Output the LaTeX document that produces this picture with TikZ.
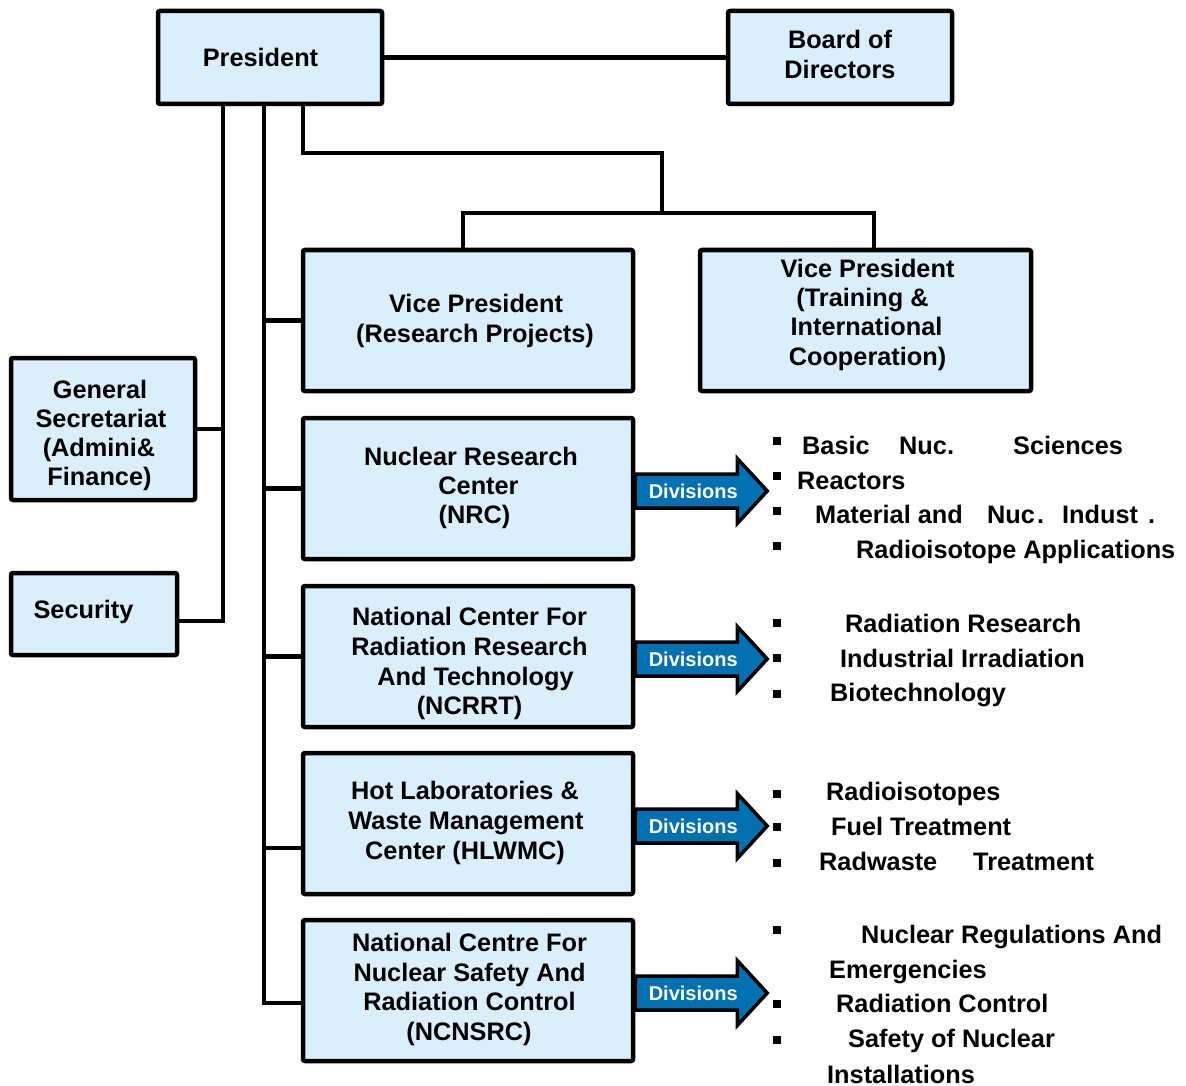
\documentclass[tikz,border=0pt]{standalone}
\usepackage{fontspec}
\setmainfont{Liberation Sans}
\definecolor{boxfill}{RGB}{218,238,252}
\definecolor{divblue}{RGB}{0,112,176}
\begin{document}
\begin{tikzpicture}[x=1pt,y=-1pt,
  orgbox/.style={draw, line width=4.5pt, fill=boxfill, rounded corners=2pt, inner sep=0pt, rectangle},
  boxtxt/.style={anchor=base, inner sep=0pt, font=\fontsize{25.3}{30}\selectfont\bfseries},
  wire/.style={line width=4.5pt, line join=miter},
  divarrow/.style={draw, line width=3.5pt, fill=divblue, line join=miter},
  divtxt/.style={text=white, inner sep=0pt, font=\fontsize{20}{24}\selectfont\bfseries},
  lst/.style={anchor=base west, inner sep=0pt, font=\fontsize{25.3}{30}\selectfont\bfseries},
  bul/.style={fill=black, minimum size=8pt, inner sep=0pt, rectangle}
]
\useasboundingbox (0,0) rectangle (1186,1086);

% ---------- boxes ----------
\node[orgbox, minimum width=224pt, minimum height=93pt]  (pres)   at (270,57.5)   {};
\node[orgbox, minimum width=224pt, minimum height=93pt]  (board)  at (840,57.5)   {};
\node[orgbox, minimum width=330pt, minimum height=141pt] (vpr)    at (468,320.5)  {};
\node[orgbox, minimum width=331pt, minimum height=141pt] (vpt)    at (865.5,320.5){};
\node[orgbox, minimum width=184pt, minimum height=142pt] (gsec)   at (103,429)    {};
\node[orgbox, minimum width=166pt, minimum height=82pt]  (sec)    at (94,614)     {};
\node[orgbox, minimum width=330pt, minimum height=141pt] (nrc)    at (468,488.5)  {};
\node[orgbox, minimum width=330pt, minimum height=141pt] (ncrrt)  at (468,656.5)  {};
\node[orgbox, minimum width=330pt, minimum height=141pt] (hlwmc)  at (468,823.5)  {};
\node[orgbox, minimum width=330pt, minimum height=141pt] (ncnsrc) at (468,990.5)  {};

% ---------- box texts ----------
\node[boxtxt] (pres-t)   at (260.5,67) {President};
\node[boxtxt] (board-t1) at (840,49) {Board of};
\node[boxtxt] (board-t2) at (840,79) {Directors};
\node[boxtxt] (vpr-t1)   at (476,312) {Vice President};
\node[boxtxt] (vpr-t2)   at (475,342) {(Research Projects)};
\node[boxtxt] (vpt-t1)   at (867.5,277) {Vice President};
\node[boxtxt] (vpt-t2)   at (862.5,306) {(Training \&};
\node[boxtxt] (vpt-t3)   at (866.5,335) {International};
\node[boxtxt] (vpt-t4)   at (867.5,365) {Cooperation)};
\node[boxtxt] (gsec-t1)  at (100,398) {General};
\node[boxtxt] (gsec-t2)  at (101,427) {Secretariat};
\node[boxtxt] (gsec-t3)  at (99,456) {(Admini\&};
\node[boxtxt] (gsec-t4)  at (99.5,485) {Finance)};
\node[boxtxt] (sec-t)    at (83.5,618) {Security};
\node[boxtxt] (nrc-t1)   at (471,465) {Nuclear Research};
\node[boxtxt] (nrc-t2)   at (478.5,494) {Center};
\node[boxtxt] (nrc-t3)   at (474.5,523) {(NRC)};
\node[boxtxt] (ncrrt-t1) at (469.5,625) {National Center For};
\node[boxtxt] (ncrrt-t2) at (469.5,655) {Radiation Research};
\node[boxtxt] (ncrrt-t3) at (475.5,685) {And Technology};
\node[boxtxt] (ncrrt-t4) at (469.5,714) {(NCRRT)};
\node[boxtxt] (hlwmc-t1) at (465,799) {Hot Laboratories \&};
\node[boxtxt] (hlwmc-t2) at (466,829) {Waste Management};
\node[boxtxt] (hlwmc-t3) at (465,859) {Center (HLWMC)};
\node[boxtxt] (ncn-t1)   at (469.5,951) {National Centre For};
\node[boxtxt] (ncn-t2)   at (469.5,981) {Nuclear Safety And};
\node[boxtxt] (ncn-t3)   at (469.5,1010) {Radiation Control};
\node[boxtxt] (ncn-t4)   at (469,1040) {(NCNSRC)};

% ---------- connector bends ----------
\coordinate (s1) at (223,621);
\coordinate (s2) at (264,1003);
\coordinate (h2) at (264,848);
\coordinate (t1) at (303,153);
\coordinate (t2) at (662,213);
\coordinate (u1) at (463,213);
\coordinate (u2) at (874,213);

% President -- Board
\draw[wire] (pres.east) -- (board.west);
% staff line: secretariat and security
\draw[wire] (pres.south -| s1) -- (s1) -- (sec.east |- s1);
\draw[wire] (gsec.east) -- (gsec.east -| s1);
% line to the vice president and the centres
\draw[wire] (pres.south -| s2) -- (s2) -- (ncnsrc.west |- s2);
\draw[wire] (vpr.west -| s2) -- (vpr.west);
\draw[wire] (nrc.west -| s2) -- (nrc.west);
\draw[wire] (ncrrt.west -| s2) -- (ncrrt.west);
\draw[wire] (h2) -- (hlwmc.west |- h2);
% line to the two vice presidents at the top
\draw[wire] (pres.south -| t1) -- (t1) -- (t1 -| t2) -- (t2);
\draw[wire] (vpr.north -| u1) -- (u1) -- (u2) -- (vpt.north -| u2);

% ---------- "Divisions" arrows ----------
\foreach \b in {nrc,ncrrt,hlwmc,ncnsrc}{
  \draw[divarrow] ([yshift=-2.5pt]\b.east) ++(0,-17) -- ++(102,0) -- ++(0,-15.5)
      -- ++(30,32.5) -- ++(-30,32.5) -- ++(0,-15.5) -- ++(-102,0) -- cycle;
  \node[divtxt] (div-\b) at ([xshift=58pt,yshift=-2.5pt]\b.east) {Divisions};
}

% ---------- division lists ----------
% NRC
\node[bul] (b11) at (777,441) {};
\node[bul] (b12) at (777,476) {};
\node[bul] (b13) at (777,511) {};
\node[bul] (b14) at (777,546) {};
\node[lst] (l11a) at (802,454) {Basic};
\node[lst] (l11b) at (899,454) {Nuc.};
\node[lst] (l11c) at (1013,454) {Sciences};
\node[lst] (l12)  at (797,489) {Reactors};
\node[lst] (l13a) at (815,523) {Material and};
\node[lst] (l13b) at (987,523) {Nuc};
\node[lst] (l13c) at (1037,523) {.};
\node[lst] (l13d) at (1062,523) {Indust};
\node[lst] (l13e) at (1148,523) {.};
\node[lst] (l14)  at (856,558) {Radioisotope Applications};
% NCRRT
\node[bul] (b21) at (777,623) {};
\node[bul] (b22) at (777,658) {};
\node[bul] (b23) at (777,693.5) {};
\node[lst] (l21) at (845,632) {Radiation Research};
\node[lst] (l22) at (840,667) {Industrial Irradiation};
\node[lst] (l23) at (830,701) {Biotechnology};
% HLWMC
\node[bul] (b31) at (777,793.5) {};
\node[bul] (b32) at (777,827) {};
\node[bul] (b33) at (777,862.5) {};
\node[lst] (l31)  at (826,800) {Radioisotopes};
\node[lst] (l32)  at (831,835) {Fuel Treatment};
\node[lst] (l33a) at (819,870) {Radwaste};
\node[lst] (l33b) at (973,870) {Treatment};
% NCNSRC
\node[bul] (b41) at (777,930) {};
\node[bul] (b42) at (777,1004) {};
\node[bul] (b43) at (777,1040) {};
\node[lst] (l41a) at (861,943) {Nuclear Regulations And};
\node[lst] (l41b) at (829,978) {Emergencies};
\node[lst] (l42)  at (836,1012) {Radiation Control};
\node[lst] (l43a) at (848,1047) {Safety of Nuclear};
\node[lst] (l43b) at (827,1083) {Installations};
\end{tikzpicture}
\end{document}
